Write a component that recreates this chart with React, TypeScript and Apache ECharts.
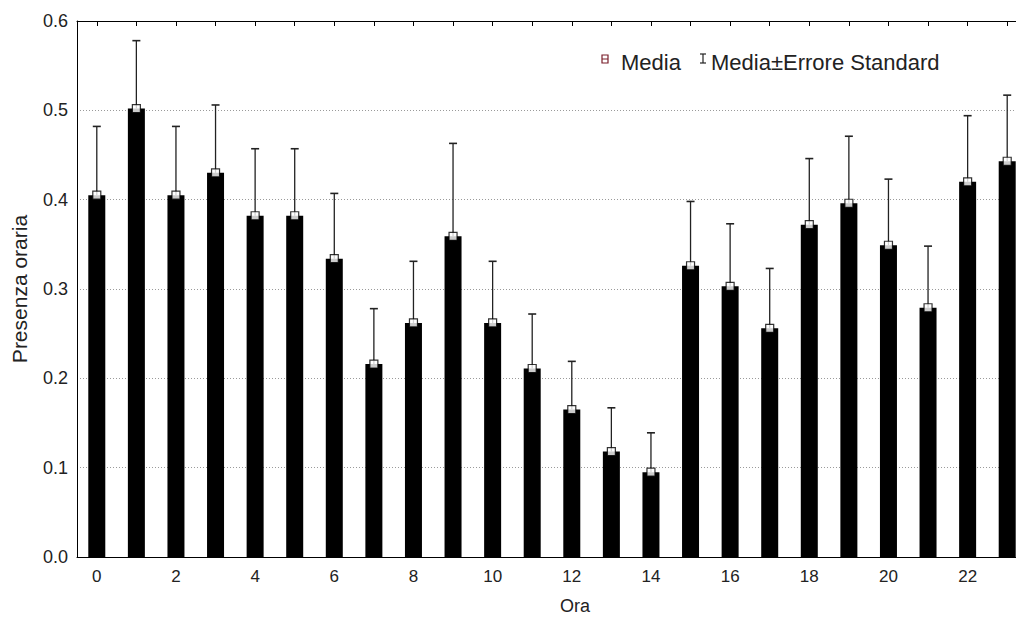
import React, { useEffect, useRef } from "react";
import * as echarts from "echarts";

const hours = ["0","1","2","3","4","5","6","7","8","9","10","11","12","13","14","15","16","17","18","19","20","21","22","23"];
const means = [0.405,0.502,0.405,0.430,0.382,0.382,0.334,0.216,0.262,0.359,0.262,0.211,0.165,0.118,0.095,0.326,0.303,0.256,0.372,0.396,0.349,0.279,0.420,0.443];
const uppers = [0.482,0.578,0.482,0.506,0.457,0.457,0.407,0.278,0.331,0.463,0.331,0.272,0.219,0.167,0.139,0.398,0.373,0.323,0.446,0.471,0.423,0.348,0.494,0.517];
const yTicks = [0, 0.1, 0.2, 0.3, 0.4, 0.5, 0.6];

const FONT = "'Liberation Sans', Arial, sans-serif";
const TXT = "#222";

export default function App() {
  const ref = useRef<HTMLDivElement>(null);
  useEffect(() => {
    if (!ref.current) return;
    const chart = echarts.init(ref.current, null, { renderer: "svg" });
    const errData = hours.map((_, i) => [i, means[i], uppers[i]]);
    const markData = hours.map((_, i) => [i, means[i]]);
    chart.setOption({
      animation: false,
      backgroundColor: "#fff",
      grid: { left: 77, top: 21, width: 950, height: 536, containLabel: false, outerBoundsMode: "none" },
      xAxis: [
        {
          type: "category",
          data: hours,
          position: "bottom",
          axisLine: { show: true, lineStyle: { color: "#000", width: 1 } },
          axisTick: { show: false },
          axisLabel: { interval: 1, fontSize: 17, color: TXT, fontFamily: FONT, margin: 11 },
          splitLine: { show: false },
        },
        {
          type: "category",
          data: hours,
          position: "top",
          axisLine: { show: true, lineStyle: { color: "#000", width: 1 } },
          axisTick: { show: true, inside: true, alignWithLabel: true, interval: 0, length: 5, lineStyle: { color: "#000" } },
          axisLabel: { show: false },
          splitLine: { show: false },
        },
      ],
      yAxis: {
        type: "value",
        min: 0,
        max: 0.6,
        interval: 0.1,
        name: "Presenza oraria",
        nameLocation: "middle",
        nameGap: 47,
        nameTextStyle: { fontSize: 21, color: TXT, fontFamily: FONT },
        axisLine: { show: true, lineStyle: { color: "#000", width: 1 } },
        axisTick: { show: false },
        axisLabel: {
          fontSize: 18,
          color: TXT,
          fontFamily: FONT,
          margin: 9,
          formatter: (v: number) => (yTicks.includes(Math.round(v * 10) / 10) ? v.toFixed(1) : ""),
        },
        splitLine: { show: true, lineStyle: { color: "#9a9a9a", type: [1, 2], width: 1 } },
      },
      series: [
        {
          type: "bar",
          data: means,
          barWidth: 17,
          itemStyle: { color: "#000" },
          z: 2,
        },
        {
          type: "custom",
          data: errData,
          encode: { x: 0, y: [1, 2] },
          z: 3,
          renderItem: (_params: any, api: any) => {
            const x = api.value(0);
            const p0 = api.coord([x, api.value(1)]);
            const p1 = api.coord([x, api.value(2)]);
            return {
              type: "group",
              children: [
                { type: "line", shape: { x1: p0[0], y1: p0[1], x2: p1[0], y2: p1[1] }, style: { stroke: "#222", lineWidth: 1.3 } },
                { type: "line", shape: { x1: p1[0] - 4, y1: p1[1], x2: p1[0] + 4, y2: p1[1] }, style: { stroke: "#222", lineWidth: 1.6 } },
              ],
            };
          },
        },
        {
          type: "scatter",
          data: markData,
          symbol: "rect",
          symbolSize: 8,
          itemStyle: { color: "#fff", borderColor: "#000", borderWidth: 1.2 },
          z: 4,
        },
      ],
      graphic: [
        { type: "rect", shape: { x: 602, y: 55, width: 6, height: 8 }, style: { fill: "#fff", stroke: "#7a1f2b", lineWidth: 1.2 } },
        { type: "line", shape: { x1: 602, y1: 59, x2: 608, y2: 59 }, style: { stroke: "#7a1f2b", lineWidth: 1 } },
        { type: "text", x: 621, y: 62, style: { text: "Media", fontSize: 22, fill: TXT, fontFamily: FONT, verticalAlign: "middle", align: "left" } },
        { type: "line", shape: { x1: 703, y1: 54, x2: 703, y2: 63 }, style: { stroke: "#222", lineWidth: 1.2 } },
        { type: "line", shape: { x1: 700, y1: 54, x2: 706, y2: 54 }, style: { stroke: "#222", lineWidth: 1.2 } },
        { type: "line", shape: { x1: 700, y1: 63, x2: 706, y2: 63 }, style: { stroke: "#222", lineWidth: 1.2 } },
        { type: "text", x: 711, y: 62, style: { text: "Media±Errore Standard", fontSize: 22, fill: TXT, fontFamily: FONT, verticalAlign: "middle", align: "left" } },
        { type: "text", x: 575, y: 606, style: { text: "Ora", fontSize: 18, fill: TXT, fontFamily: FONT, verticalAlign: "middle", align: "center" } },
      ],
    });
    return () => chart.dispose();
  }, []);
  return (
    <div
      ref={ref}
      style={{ position: "absolute", left: 0, top: 0, width: 1016, height: 619, background: "#fff" }}
    />
  );
}
